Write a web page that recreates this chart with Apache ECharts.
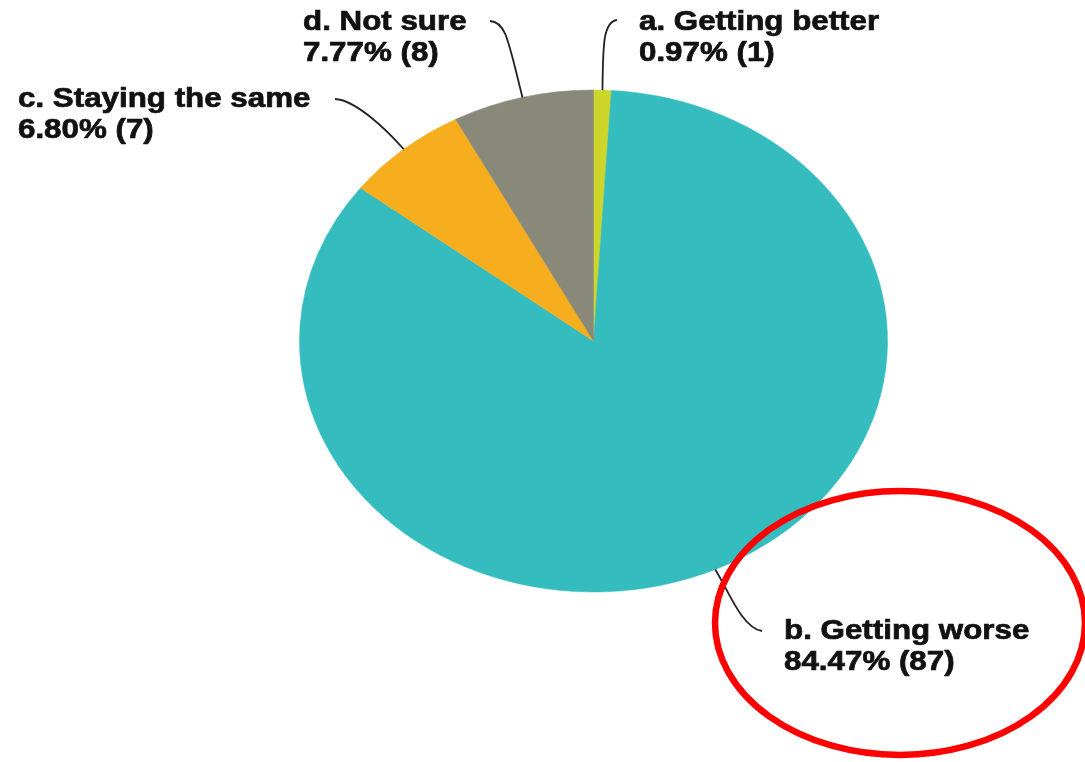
<!DOCTYPE html>
<html>
<head>
<meta charset="utf-8">
<script src="https://cdn.jsdelivr.net/npm/echarts@6/dist/echarts.min.js"></script>
<style>
  html, body { margin: 0; padding: 0; background: #fff; }
  #chart { width: 1085px; height: 762px; }
</style>
</head>
<body>
<div id="chart"></div>
<script>
// Survey answers and response counts
const categories = ['a. Getting better', 'b. Getting worse', 'c. Staying the same', 'd. Not sure'];
const counts = [1, 87, 7, 8];
const sliceColors = ['#CDD42A', '#34BCBE', '#F6AE1F', '#898979'];

// Pie geometry (drawn as an ellipse: wider than tall)
const pie = { cx: 593.5, cy: 341, rx: 294, ry: 251 };

// Label placement: text anchor (left, first baseline) and leader curve control/end points
const labelLayout = [
  { x: 639, base: 32, cp1: [603, 45], cp2: [603, 22], end: [617, 20] },
  { x: 784, base: 641, cp1: [728, 590], cp2: [742, 628], end: [762, 631] },
  { x: 18, base: 109, cp1: [385, 128], cp2: [355, 100], end: [335, 99] },
  { x: 303, base: 32, cp1: [508, 40], cp2: [506, 22], end: [490, 21] }
];

// Highlight ring around the largest answer
const highlight = { cx: 900, cy: 623, rx: 185, ry: 132, color: '#FF0000', width: 6.5 };

const total = counts.reduce((s, v) => s + v, 0);
const LINE_GAP = 31;
const FONT_SIZE = 27;
const TEXT_SCALE = 1.16;

function pctText(v) {
  return (v / total * 100).toFixed(2) + '% (' + v + ')';
}

function labelText(str, x, y, font) {
  return {
    type: 'text',
    x: x, y: y,
    scaleX: TEXT_SCALE, scaleY: 1,
    style: {
      text: str, font: font, fill: '#111',
      stroke: '#111', lineWidth: 0.7,
      align: 'left', verticalAlign: 'middle'
    }
  };
}

function renderSlice(params, api) {
  const i = params.dataIndex;
  const v = api.value(1);
  let before = 0;
  for (let k = 0; k < i; k++) before += counts[k];
  const start = before / total * Math.PI * 2 - Math.PI / 2;
  const end = start + v / total * Math.PI * 2;
  const mid = (start + end) / 2;
  const p0 = [pie.cx + pie.rx * Math.cos(mid), pie.cy + pie.ry * Math.sin(mid)];
  const lay = labelLayout[i];
  const font = 'bold ' + FONT_SIZE + 'px "Liberation Sans", Arial, sans-serif';
  return {
    type: 'group',
    children: [
      {
        type: 'sector',
        x: pie.cx, y: pie.cy,
        scaleX: pie.rx / pie.ry, scaleY: 1,
        shape: { cx: 0, cy: 0, r0: 0, r: pie.ry, startAngle: start, endAngle: end, clockwise: true },
        style: { fill: sliceColors[i], stroke: sliceColors[i], lineWidth: 0.5 }
      },
      {
        type: 'bezierCurve',
        shape: {
          x1: p0[0], y1: p0[1],
          cpx1: lay.cp1[0], cpy1: lay.cp1[1],
          cpx2: lay.cp2[0], cpy2: lay.cp2[1],
          x2: lay.end[0], y2: lay.end[1]
        },
        style: { stroke: '#222', lineWidth: 1.8, fill: null }
      },
      labelText(categories[i], lay.x, lay.base - 9, font),
      labelText(pctText(v), lay.x, lay.base + LINE_GAP - 9, font)
    ]
  };
}

function renderHighlight() {
  const h = highlight;
  const d = 'M ' + (h.cx - h.rx) + ' ' + h.cy +
    ' A ' + h.rx + ' ' + h.ry + ' 0 1 0 ' + (h.cx + h.rx) + ' ' + h.cy +
    ' A ' + h.rx + ' ' + h.ry + ' 0 1 0 ' + (h.cx - h.rx) + ' ' + h.cy + ' Z';
  return {
    type: 'path',
    shape: { pathData: d },
    style: { fill: null, stroke: h.color, lineWidth: h.width }
  };
}

const chart = echarts.init(document.getElementById('chart'), null, { renderer: 'canvas' });
chart.setOption({
  animation: false,
  backgroundColor: '#ffffff',
  series: [
    {
      type: 'custom',
      coordinateSystem: 'none',
      silent: true,
      data: counts.map((c, i) => [i, c]),
      renderItem: renderSlice
    },
    {
      type: 'custom',
      coordinateSystem: 'none',
      silent: true,
      data: [[0]],
      renderItem: renderHighlight
    }
  ]
});
</script>
</body>
</html>
